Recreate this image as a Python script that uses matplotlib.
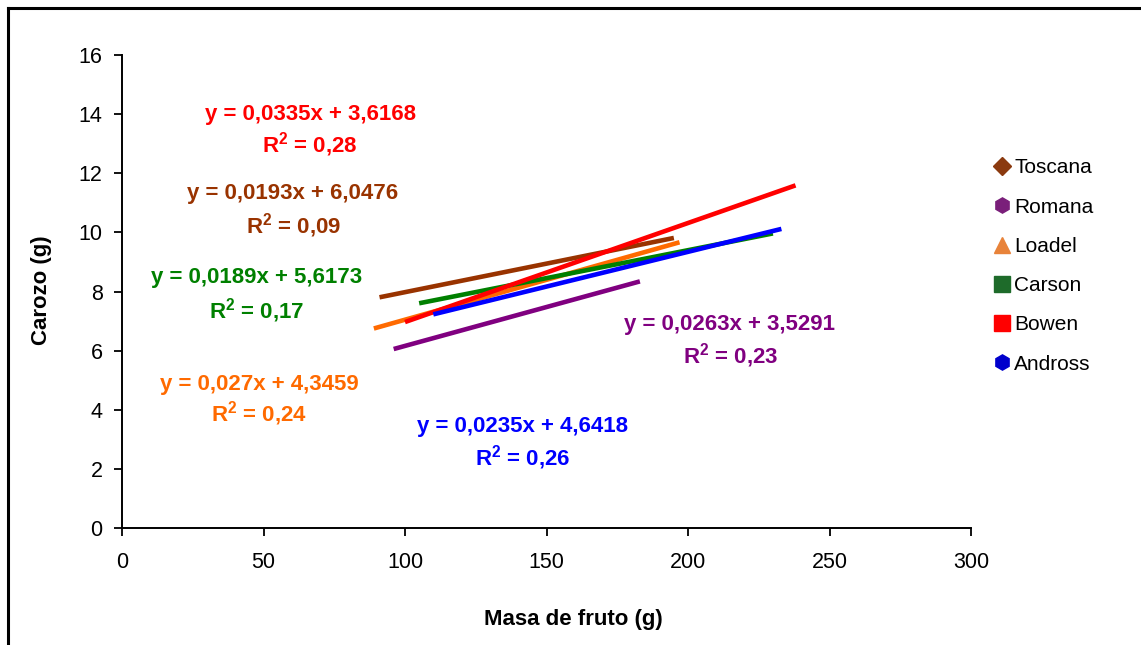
import matplotlib
matplotlib.use("Agg")
import matplotlib.pyplot as plt
from matplotlib.lines import Line2D
import numpy as np

plt.rcParams['font.family'] = ['Liberation Sans', 'DejaVu Sans']
plt.rcParams['mathtext.fontset'] = 'custom'
plt.rcParams['mathtext.rm'] = 'Liberation Sans'
plt.rcParams['mathtext.bf'] = 'Liberation Sans:bold'

# ---- data ----
cultivars = ["Toscana", "Romana", "Loadel", "Carson", "Bowen", "Andross"]
slopes = [0.0193, 0.0263, 0.027, 0.0189, 0.0335, 0.0235]
intercepts = [6.0476, 3.5291, 4.3459, 5.6173, 3.6168, 4.6418]
r2_values = ["0,09", "0,23", "0,24", "0,17", "0,28", "0,26"]
eq_labels = ["y = 0,0193x + 6,0476", "y = 0,0263x + 3,5291", "y = 0,027x + 4,3459",
             "y = 0,0189x + 5,6173", "y = 0,0335x + 3,6168", "y = 0,0235x + 4,6418"]
x_min = [91, 96, 89, 105, 100, 110]
x_max = [195, 183, 197, 230, 238, 233]

x_ticks = [0, 50, 100, 150, 200, 250, 300]
y_ticks = [0, 2, 4, 6, 8, 10, 12, 14, 16]

# ---- styles ----
line_colors = ["#993300", "#800080", "#FF6A00", "#008000", "#FF0000", "#0000FF"]
text_colors = ["#993300", "#800080", "#FF6A00", "#008000", "#FF0000", "#0000FF"]
legend_colors = ["#8B3A0F", "#7A1F7A", "#E8833A", "#1E6B2A", "#FF0000", "#0000CC"]
markers = ["D", "h", "^", "s", "s", "h"]
# annotation positions (data coords): eq (x, y), r2 (x, y)
eq_pos = [(60.2, 11.3), (214.8, 6.9), (48.5, 4.87), (47.6, 8.46), (66.5, 14.0), (141.5, 3.45)]
r2_pos = [(60.5, 10.22), (215.0, 5.82), (48.5, 3.86), (47.6, 7.37), (66.4, 12.96), (141.5, 2.37)]

fig = plt.figure(figsize=(11.41, 6.45), dpi=100)
ax = fig.add_axes([122/1141, 1-528/645, 849/1141, 473/645])

for i, name in enumerate(cultivars):
    xs = np.array([x_min[i], x_max[i]])
    ys = slopes[i]*xs + intercepts[i]
    ax.plot(xs, ys, color=line_colors[i], lw=3.3, solid_capstyle='butt')
    ax.text(*eq_pos[i], eq_labels[i], color=text_colors[i], fontsize=16,
            fontweight='bold', ha='center', va='center')
    ax.text(*r2_pos[i], r"R$^{\mathbf{2}}$ = " + r2_values[i], color=text_colors[i], fontsize=16,
            fontweight='bold', ha='center', va='center')

ax.set_xlim(0, 300)
ax.set_ylim(0, 16)
ax.set_xticks(x_ticks)
ax.set_yticks(y_ticks)
ax.set_xticklabels([str(v) for v in x_ticks])
ax.set_yticklabels([str(v) for v in y_ticks])
ax.tick_params(axis='both', labelsize=15.5, length=6, width=1.3, direction='out')
ax.tick_params(axis='x', pad=11)
ax.tick_params(axis='y', pad=8)
for s in ['top', 'right']:
    ax.spines[s].set_visible(False)
for s in ['left', 'bottom']:
    ax.spines[s].set_linewidth(1.4)

fig.text(573/1141, 1-620/645, "Masa de fruto (g)", fontsize=16, fontweight='bold',
         ha='center', va='center')
fig.text(42/1141, 1-290/645, "Carozo (g)", fontsize=16, fontweight='bold',
         ha='center', va='center', rotation=90)

handles = [Line2D([], [], linestyle='none', marker=markers[i], color=legend_colors[i],
                  markersize=11 if markers[i] != 'D' else 9) for i in range(len(cultivars))]
fig.legend(handles, cultivars, loc='center left', bbox_to_anchor=(985/1141, 1-266/645),
           frameon=False, fontsize=15, handlelength=0.6, handletextpad=0.3,
           labelspacing=0.97, borderpad=0)

# outer border (top and left visible)
fig.add_artist(Line2D([8/1141, 1.0], [1-8/645, 1-8/645], color='black', lw=2.2,
                      transform=fig.transFigure))
fig.add_artist(Line2D([8/1141, 8/1141], [0, 1-8/645], color='black', lw=2.2,
                      transform=fig.transFigure))

fig.savefig("out.png", dpi=100)
